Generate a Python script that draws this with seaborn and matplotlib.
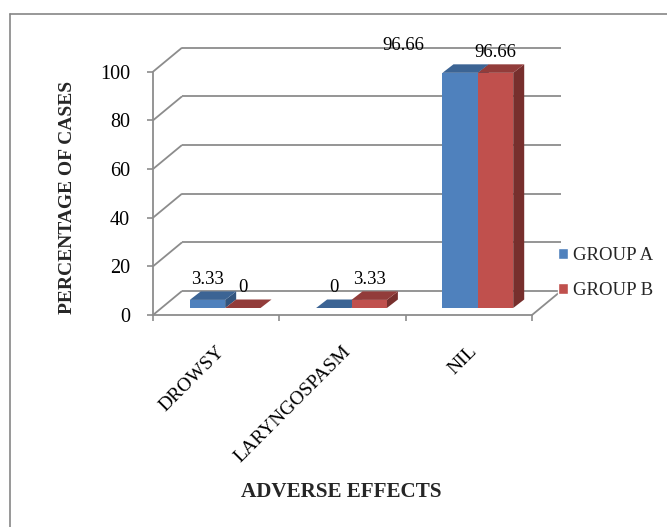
import matplotlib
matplotlib.use("Agg")
import matplotlib.pyplot as plt
import matplotlib.transforms as mtransforms
from matplotlib.patches import Polygon
from matplotlib.lines import Line2D
import pandas as pd
import seaborn as sns

# ---- data -------------------------------------------------------------
categories = ["DROWSY", "LARYNGOSPASM", "NIL"]
groups = ["GROUP A", "GROUP B"]
group_a = [3.33, 0, 96.66]
group_b = [0, 3.33, 96.66]
y_ticks = [0, 20, 40, 60, 80, 100]

# ---- styling ----------------------------------------------------------
front_colors = {"GROUP A": "#4F81BD", "GROUP B": "#C0504D"}
top_colors = {"GROUP A": "#3C6494", "GROUP B": "#923C3A"}
side_colors = {"GROUP A": "#33557E", "GROUP B": "#772F2D"}
GRID = "#8C8C8C"

W, H = 667, 527            # figure size in pixels (dpi 100)
WALL_DEPTH = (29, 24)      # back-wall offset in pixels (right, up)
BAR_SHIFT = (9, 7)         # bars sit a little inside the floor
BAR_DEPTH = (11, 8.5)      # visible depth of each bar

df = pd.DataFrame({
    "effect": categories * 2,
    "group": [groups[0]] * len(categories) + [groups[1]] * len(categories),
    "value": group_a + group_b,
})

sns.set_theme(style="white")
plt.rcParams["font.family"] = ["Liberation Serif", "DejaVu Serif"]

fig = plt.figure(figsize=(W / 100, H / 100), dpi=100)
ax = fig.add_axes([153 / W, 1 - 315 / H, 379 / W, 243.3 / H])
ax.set_facecolor("none")

sns.barplot(data=df, x="effect", y="value", hue="group",
            order=categories, hue_order=groups, palette=front_colors,
            width=0.56, saturation=1, ax=ax)
handles, labels = ax.get_legend_handles_labels()
if ax.get_legend() is not None:
    ax.get_legend().remove()

ax.set_xlim(-0.5, len(categories) - 0.5)
ax.set_ylim(0, 100)

# pixel -> data unit conversion
sx = ax.bbox.width / len(categories)
sy = ax.bbox.height / 100.0

# ---- back wall and floor ---------------------------------------------
wdx, wdy = WALL_DEPTH[0] / sx, WALL_DEPTH[1] / sy
x_left, x_right = -0.5, len(categories) - 0.5
for v in y_ticks:
    ax.plot([x_left, x_left + wdx], [v, v + wdy], color=GRID, lw=1.3,
            clip_on=False, zorder=0.5, solid_capstyle="butt")
    ax.plot([x_left + wdx, x_right + wdx], [v + wdy, v + wdy], color=GRID,
            lw=1.3, clip_on=False, zorder=0.5, solid_capstyle="butt")
ax.plot([x_right, x_right + wdx], [0, wdy], color=GRID, lw=1.3,
        clip_on=False, zorder=0.5)

# ---- 3-D bar faces ----------------------------------------------------
bar_trans = ax.transData + mtransforms.ScaledTranslation(
    BAR_SHIFT[0] / 100, BAR_SHIFT[1] / 100, fig.dpi_scale_trans)
bdx, bdy = BAR_DEPTH[0] / sx, BAR_DEPTH[1] / sy

label_nudge = {("NIL", "GROUP A"): (-41, 5)}   # points

for gi, (grp, container) in enumerate(zip(groups, ax.containers)):
    z = 2 + gi
    for cat, p in zip(categories, container.patches):
        x0, w, h = p.get_x(), p.get_width(), p.get_height()
        cx = x0 + w / 2
        p.set_transform(bar_trans)
        p.set_edgecolor("none")
        p.set_zorder(z)
        side = Polygon([(x0 + w, 0), (x0 + w, h), (x0 + w + bdx, h + bdy),
                        (x0 + w + bdx, bdy)], closed=True,
                       facecolor=side_colors[grp], edgecolor="none",
                       transform=bar_trans, zorder=z - 0.5, clip_on=False)
        top = Polygon([(x0, h), (x0 + w, h), (x0 + w + bdx, h + bdy),
                       (x0 + bdx, h + bdy)], closed=True,
                      facecolor=top_colors[grp], edgecolor="none",
                      transform=bar_trans, zorder=z - 0.4, clip_on=False)
        ax.add_patch(side)
        ax.add_patch(top)
        ndx, ndy = label_nudge.get((cat, grp), (0, 0))
        ax.annotate(f"{h:g}", xy=(cx, h), xycoords=bar_trans,
                    xytext=(ndx, 14.4 + ndy), textcoords="offset points",
                    ha="center", va="center", fontsize=13.5, color="black",
                    annotation_clip=False, zorder=6)

# ---- axes, ticks ------------------------------------------------------
for s in ["top", "right"]:
    ax.spines[s].set_visible(False)
for s in ["left", "bottom"]:
    ax.spines[s].set_color(GRID)
    ax.spines[s].set_linewidth(1.3)
    ax.spines[s].set_zorder(0.6)

ax.set_yticks(y_ticks)
ax.tick_params(axis="y", left=True, direction="out", length=4.5, width=1.2,
               color=GRID, pad=12, labelsize=14.5, labelcolor="black")
ax.set_xticks(range(len(categories)))
ax.set_xticklabels(categories, rotation=45, ha="right", va="top",
                   rotation_mode="anchor")
ax.set_xticks([i - 0.5 for i in range(len(categories) + 1)], minor=True)
ax.tick_params(axis="x", which="major", bottom=True, length=0, pad=20,
               labelsize=14, labelcolor="black")
ax.tick_params(axis="x", which="minor", bottom=True, direction="out",
               length=4.5, width=1.2, color=GRID)
ax.set_xlabel("")
ax.set_ylabel("")

fig.text(67 / W, 1 - 197.5 / H, "PERCENTAGE OF CASES", rotation=90,
         ha="center", va="center", fontsize=14, fontweight="bold")
fig.text(341.5 / W, 1 - 492 / H, "ADVERSE EFFECTS", ha="center",
         va="center", fontsize=15.2, fontweight="bold")

fig.legend(handles, labels, loc="center left",
           bbox_to_anchor=(558 / W, 1 - 273 / H), frameon=False,
           fontsize=13.5, handlelength=0.55, handleheight=0.55,
           handletextpad=0.25, labelspacing=0.95, borderpad=0,
           borderaxespad=0)

# chart-area border
fig.add_artist(Line2D([10 / W, 10 / W], [0, 1 - 14 / H],
                      transform=fig.transFigure, color="#868686", lw=1.2))
fig.add_artist(Line2D([10 / W, 1], [1 - 14 / H, 1 - 14 / H],
                      transform=fig.transFigure, color="#868686", lw=1.2))

fig.savefig("out.png", dpi=100)
